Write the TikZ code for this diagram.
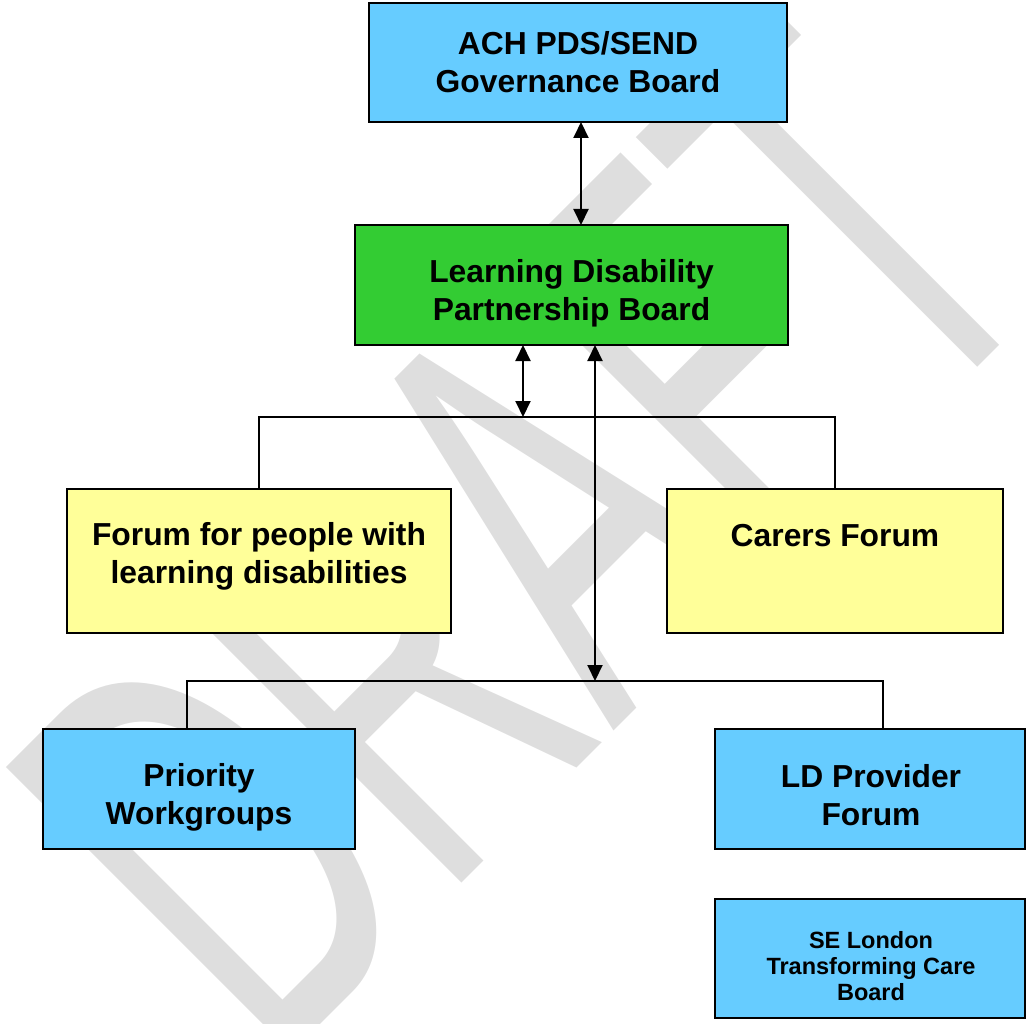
\documentclass[tikz,border=0pt]{standalone}
\usepackage{fontspec}
\setmainfont{Liberation Sans}
\usetikzlibrary{arrows.meta}
\definecolor{boxblue}{RGB}{102,204,255}
\definecolor{boxgreen}{RGB}{51,204,51}
\definecolor{boxyellow}{RGB}{255,255,153}
\definecolor{wmgray}{RGB}{222,222,222}
\tikzset{
  box/.style={draw=black, line width=1.6pt, inner sep=0pt, outer sep=0pt},
  bluebox/.style={box, fill=boxblue},
  greenbox/.style={box, fill=boxgreen},
  yellowbox/.style={box, fill=boxyellow},
  bigtext/.style={inner sep=0pt, align=center, font=\bfseries\fontsize{31.8}{38}\selectfont},
  smalltext/.style={inner sep=0pt, align=center, font=\bfseries\fontsize{23.5}{26}\selectfont},
  orgline/.style={draw=black, line width=1.4pt},
  dblarrow/.style={draw=black, line width=2pt,
    {Triangle[width=15pt,length=16pt]}-{Triangle[width=15pt,length=16pt]}},
  wm/.style={text=wmgray, inner sep=0pt, rotate=45, anchor=base west,
    font=\fontsize{587}{600}\selectfont}
}
\begin{document}
\begin{tikzpicture}[x=1pt,y=-1pt]
\useasboundingbox (0,0) rectangle (1027,1024);
% watermark
\begin{scope}
\clip (0,0) rectangle (1027,1024);
\node[wm] (draft) at (272,1073) {\scalebox{0.57}[1]{DRAFT}};
\end{scope}
% boxes
\node[bluebox, minimum width=418pt, minimum height=119pt] (ach) at (578,62.5) {};
\node[greenbox, minimum width=433pt, minimum height=120pt] (ldpb) at (571.5,285) {};
\node[yellowbox, minimum width=384pt, minimum height=144pt] (forum) at (259,561) {};
\node[yellowbox, minimum width=336pt, minimum height=144pt] (carers) at (835,561) {};
\node[bluebox, minimum width=312pt, minimum height=120pt] (prio) at (199,789) {};
\node[bluebox, minimum width=310pt, minimum height=120pt] (ldpf) at (870,789) {};
\node[bluebox, minimum width=310pt, minimum height=119pt] (sel) at (870,958.5) {};
% connector coordinates
\coordinate (a1) at (581,0);
\coordinate (bus1) at (523,417);
\coordinate (bus2) at (595,681);
\coordinate (b2l) at (187,681);
\coordinate (b2r) at (883,681);
% connectors
\draw[dblarrow] (ach.south -| a1) -- (ldpb.north -| a1);
\draw[orgline] (forum.north) -- (forum.north |- bus1) -- (carers.north |- bus1) -- (carers.north);
\draw[dblarrow] (ldpb.south -| bus1) -- (bus1);
\draw[orgline] (prio.north -| b2l) -- (b2l) -- (b2r) -- (ldpf.north -| b2r);
\draw[dblarrow] (ldpb.south -| bus2) -- (bus2);
% texts
\node[bigtext] (achT) at (578,62.6) {ACH PDS/SEND\\Governance Board};
\node[bigtext] (ldpbT) at (571.5,293) {Learning Disability\\Partnership Board};
\node[bigtext] (forumT) at (259,556) {Forum for people with\\learning disabilities};
\node[bigtext] (carersT) at (835,535.5) {Carers Forum};
\node[bigtext] (prioT) at (199,797) {Priority\\Workgroups};
\node[bigtext] (ldpfT) at (871,795.6) {LD Provider\\Forum};
\node[smalltext] (selT) at (871,965.6) {SE London\\Transforming Care\\Board};
\end{tikzpicture}
\end{document}
